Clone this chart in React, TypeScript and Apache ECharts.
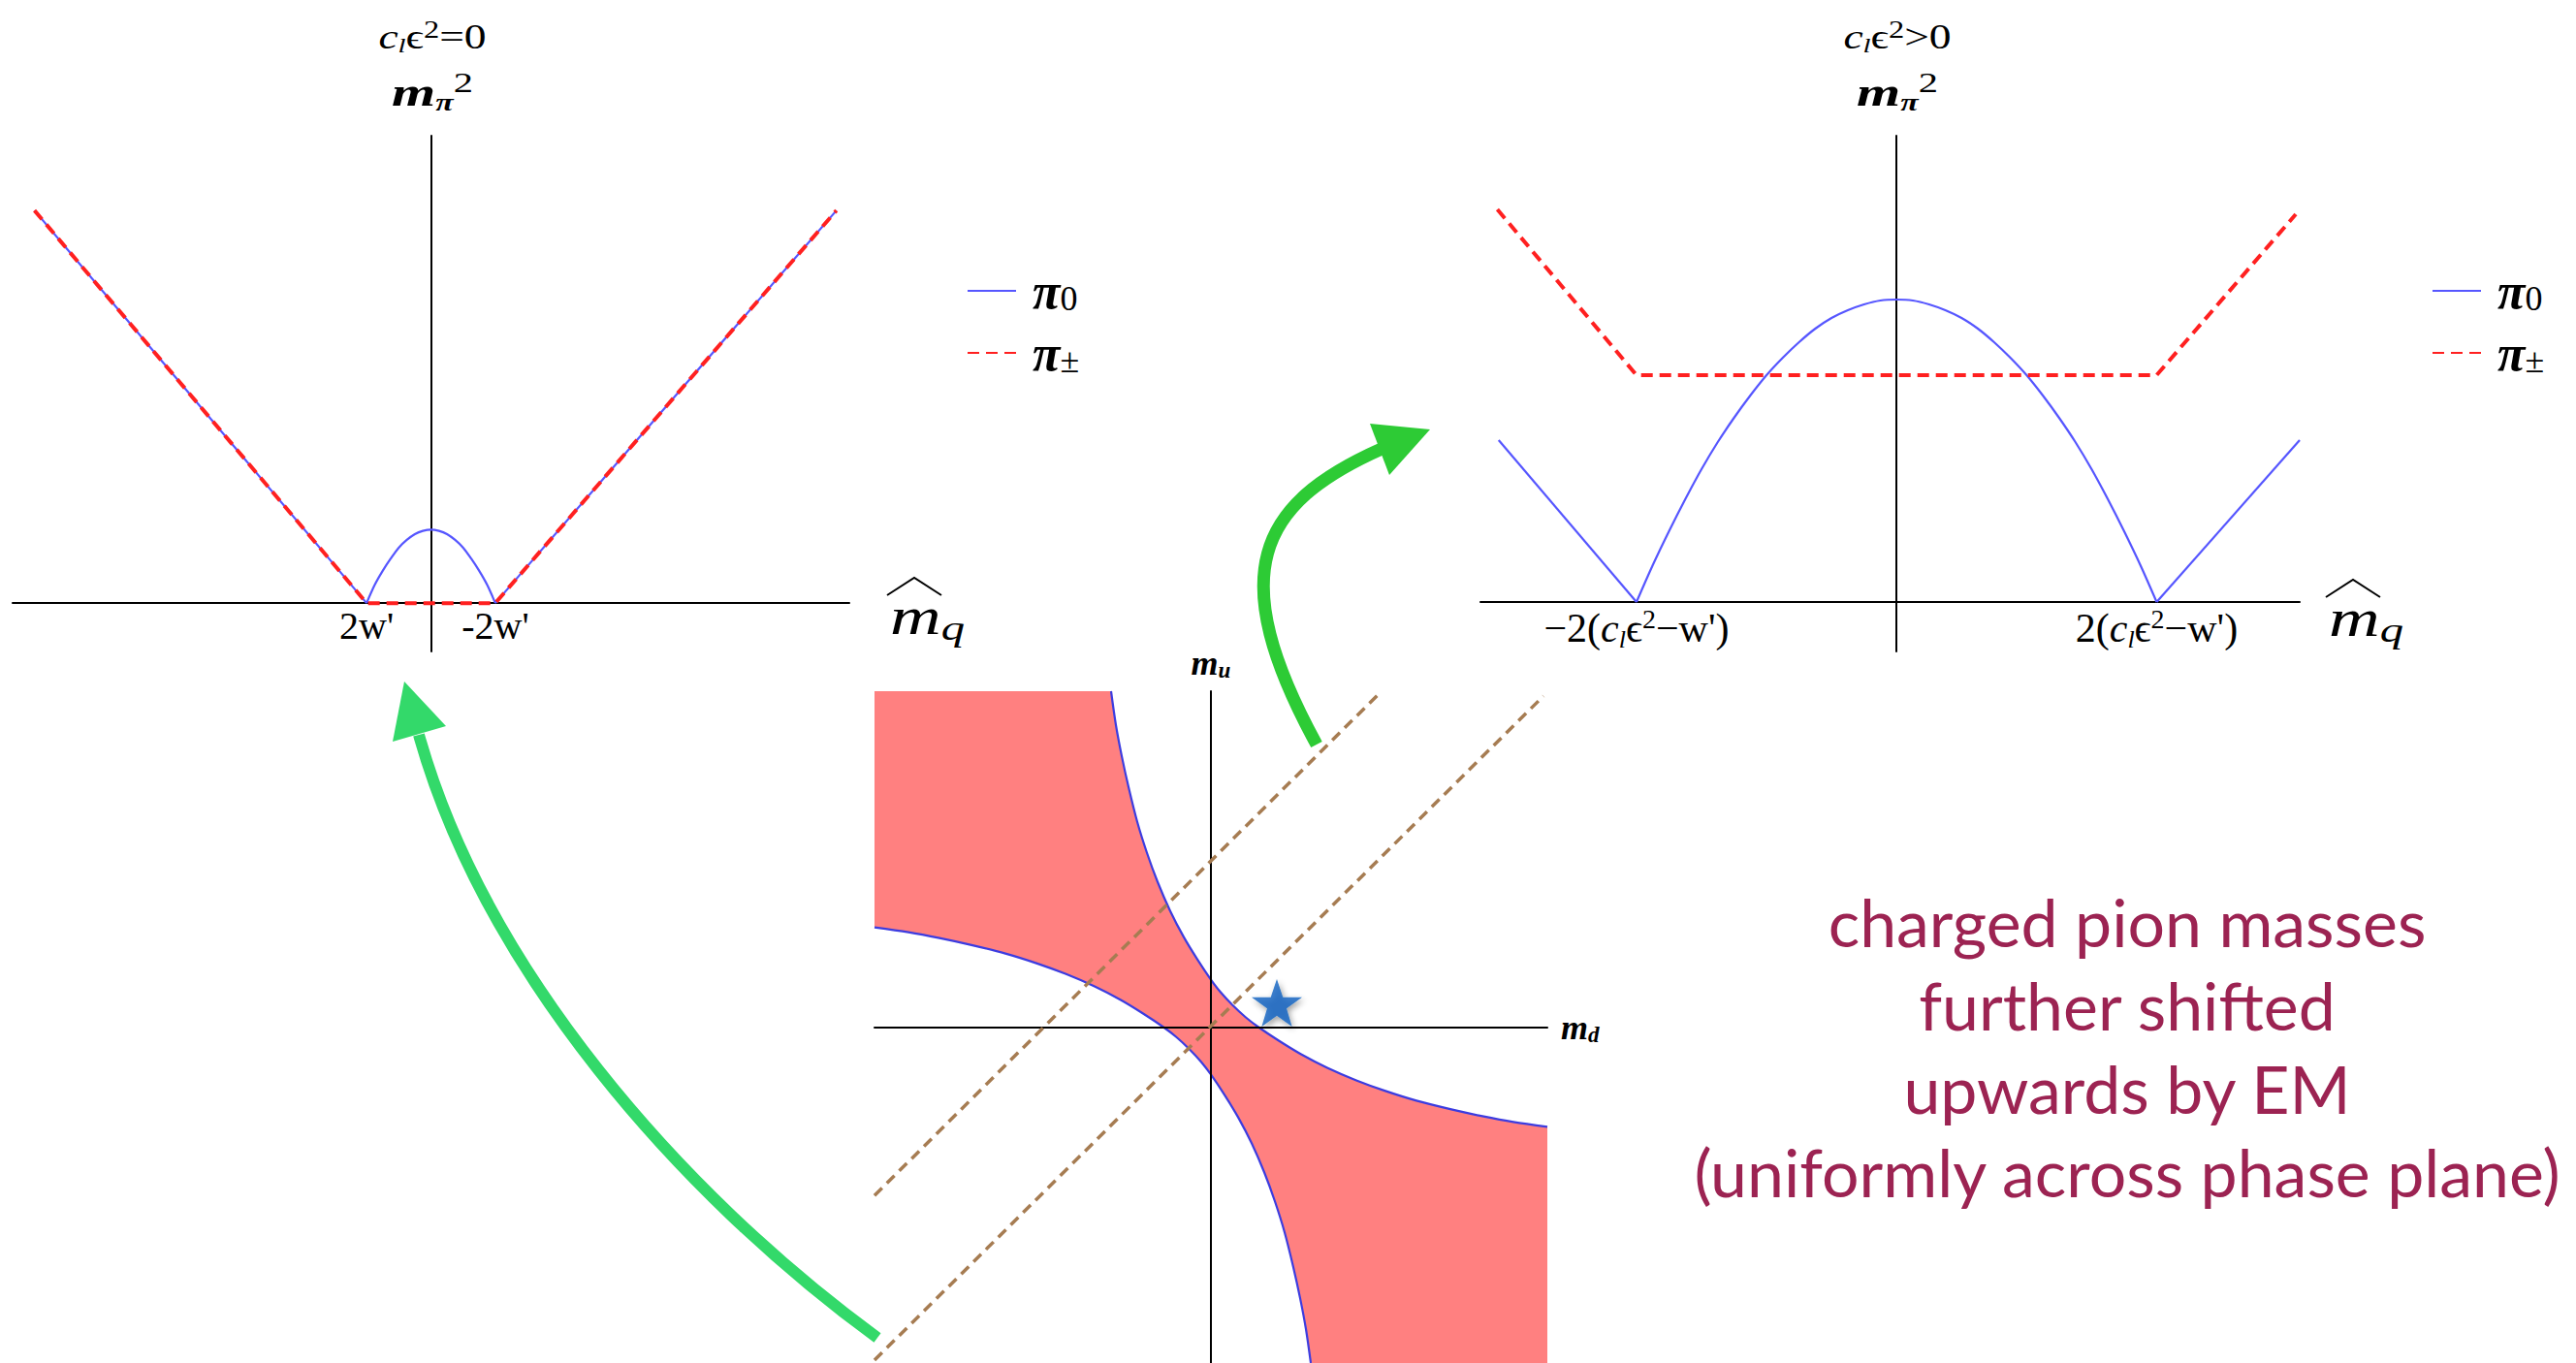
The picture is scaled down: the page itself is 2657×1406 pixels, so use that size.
import { useEffect, useRef } from 'react';
import * as echarts from 'echarts';

// ---------- Left panel: c_l eps^2 = 0 ----------
const leftPi0BranchL = [[-6.16, 6.09], [-1, 0]];
const leftPi0Arch = [
  [-1, 0], [-0.875, 0.28], [-0.75, 0.5], [-0.625, 0.69], [-0.5, 0.86], [-0.375, 0.98],
  [-0.25, 1.07], [-0.125, 1.12], [0, 1.14], [0.125, 1.12], [0.25, 1.07], [0.375, 0.98],
  [0.5, 0.86], [0.625, 0.69], [0.75, 0.5], [0.875, 0.28], [1, 0],
];
const leftPi0BranchR = [[1, 0], [6.3, 6.09]];
const leftPiCharged = [[-6.16, 6.09], [-1, 0], [1, 0], [6.3, 6.09]];
const leftTickValues = [-1, 1];
const leftTickTexts = ["2w'", "-2w'"];

// ---------- Right panel: c_l eps^2 > 0 ----------
const rightPi0BranchL = [[-3.06, 1.67], [-2, 0]];
const rightPi0Arch = [
  [-2, 0], [-1.875, 0.38], [-1.75, 0.73], [-1.625, 1.06], [-1.5, 1.37], [-1.375, 1.65],
  [-1.25, 1.9], [-1.125, 2.13], [-1, 2.34], [-0.875, 2.52], [-0.75, 2.68], [-0.625, 2.82],
  [-0.5, 2.93], [-0.375, 3.01], [-0.25, 3.07], [-0.125, 3.11], [0, 3.12],
  [0.125, 3.11], [0.25, 3.07], [0.375, 3.01], [0.5, 2.93], [0.625, 2.82], [0.75, 2.68],
  [0.875, 2.52], [1, 2.34], [1.125, 2.13], [1.25, 1.9], [1.375, 1.65], [1.5, 1.37],
  [1.625, 1.06], [1.75, 0.73], [1.875, 0.38], [2, 0],
];
const rightPi0BranchR = [[2, 0], [3.1, 1.67]];
const rightPiCharged = [[-3.07, 4.05], [-2, 2.34], [2, 2.34], [3.07, 4.0]];
const rightTickValues = [-2, 2];
const rightTickTexts = [
  '{t|−2(}{i|c}{s|l}{t|ϵ}{p|2}{t|−w\')}',
  '{t|2(}{i|c}{s|l}{t|ϵ}{p|2}{t|−w\')}',
];

// ---------- Phase plane (m_d, m_u) ----------
const phaseTopEdge = [[-3.47, 3.47], [-1.03, 3.47]];
const phaseUpper = [
  [-1.03, 3.47], [-0.98, 3.12], [-0.92, 2.8], [-0.85, 2.48], [-0.76, 2.12], [-0.66, 1.8],
  [-0.55, 1.5], [-0.42, 1.2], [-0.28, 0.93], [-0.14, 0.7], [0, 0.49], [0.1, 0.36],
  [0.225, 0.225], [0.36, 0.1], [0.49, 0], [0.7, -0.14], [0.93, -0.28], [1.2, -0.42],
  [1.5, -0.55], [1.8, -0.66], [2.12, -0.76], [2.48, -0.85], [2.8, -0.92], [3.12, -0.98],
  [3.47, -1.03],
];
const phaseLower = [
  [-3.47, 1.03], [-3.12, 0.98], [-2.8, 0.92], [-2.48, 0.85], [-2.12, 0.76], [-1.8, 0.66],
  [-1.5, 0.55], [-1.2, 0.42], [-0.93, 0.28], [-0.7, 0.14], [-0.49, 0], [-0.36, -0.1],
  [-0.225, -0.225], [-0.1, -0.36], [0, -0.49], [0.14, -0.7], [0.28, -0.93], [0.42, -1.2],
  [0.55, -1.5], [0.66, -1.8], [0.76, -2.12], [0.85, -2.48], [0.92, -2.8], [0.98, -3.12],
  [1.03, -3.47],
];
const diagonalUpper = [[-3.47, -1.74], [1.76, 3.47]];
const diagonalLower = [[-3.47, -3.44], [3.43, 3.42]];
const physicalPoint = [[0.68, 0.25]];

const caption = [
  'charged pion masses',
  'further shifted',
  'upwards by EM',
  '(uniformly across phase plane)',
];

const SERIF = 'Liberation Serif';
const BLUE = '#5656ff';
const RED = '#ff2020';
const BOUNDARY = '#3c3ce0';
const PINK = '#ff8080';
const BROWN = '#a67c52';
const GREEN_A = '#33d96a';
const GREEN_B = '#2dcb35';
const MAROON = '#9c2352';
const STAR =
  'path://M50,0L61.8,35.1L98.9,35.1L68.8,56.7L79.4,91.9L50,70.7L20.6,91.9L31.2,56.7L1.1,35.1L38.2,35.1Z';

const tickRich = {
  t: { fontFamily: SERIF, fontSize: 42, lineHeight: 48, color: '#000' },
  i: { fontFamily: SERIF, fontSize: 42, fontStyle: 'italic', lineHeight: 48, color: '#000' },
  s: { fontFamily: SERIF, fontSize: 26, fontStyle: 'italic', lineHeight: 28, verticalAlign: 'bottom', color: '#000' },
  p: { fontFamily: SERIF, fontSize: 28, lineHeight: 28, verticalAlign: 'top', color: '#000' },
};

const titleRich = {
  i: { fontFamily: SERIF, fontSize: 35, fontStyle: 'italic', lineHeight: 40, fill: '#000' },
  n: { fontFamily: SERIF, fontSize: 35, lineHeight: 40, fill: '#000' },
  s: { fontFamily: SERIF, fontSize: 22, fontStyle: 'italic', lineHeight: 22, verticalAlign: 'bottom', fill: '#000' },
  p: { fontFamily: SERIF, fontSize: 25, lineHeight: 24, verticalAlign: 'top', fill: '#000' },
  m: { fontFamily: SERIF, fontSize: 43, fontStyle: 'italic', fontWeight: 'bold', lineHeight: 48, fill: '#000' },
  mp: { fontFamily: SERIF, fontSize: 25, fontStyle: 'italic', fontWeight: 'bold', lineHeight: 24, verticalAlign: 'bottom', fill: '#000' },
  m2: { fontFamily: SERIF, fontSize: 30, lineHeight: 28, verticalAlign: 'top', fill: '#000' },
};

const mqRich = {
  m: { fontFamily: SERIF, fontSize: 54, fontStyle: 'italic', lineHeight: 60, fill: '#000' },
  q: { fontFamily: SERIF, fontSize: 36, fontStyle: 'italic', lineHeight: 36, verticalAlign: 'bottom', fill: '#000' },
};

function legendFor(left: number) {
  return {
    left,
    top: 274,
    orient: 'vertical',
    padding: 0,
    itemWidth: 50,
    itemHeight: 14,
    itemGap: 12,
    selectedMode: false,
    itemStyle: { opacity: 0 },
    data: ['π0', 'π±'],
    formatter: (name: string) => (name === 'π0' ? '{p|π}{s|0}' : '{p|π}{s|±}'),
    textStyle: {
      rich: {
        p: { fontFamily: SERIF, fontSize: 52, fontWeight: 'bold', fontStyle: 'italic', lineHeight: 52, padding: [0, 0, 0, 12], color: '#000' },
        s: { fontFamily: SERIF, fontSize: 36, lineHeight: 34, verticalAlign: 'bottom', color: '#000' },
      },
    },
  };
}

function tickFormatter(values: number[], texts: string[]) {
  return (v: number) => {
    for (let k = 0; k < values.length; k++) {
      if (Math.abs(v - values[k]) < 1e-6) return texts[k];
    }
    return '';
  };
}

const plainAxis = {
  type: 'value',
  axisTick: { show: false },
  splitLine: { show: false },
  axisLabel: { show: false },
  axisLine: { onZero: true, lineStyle: { color: '#000', width: 2 } },
};

const blueLine = (data: number[][], xi: number, smooth = false) => ({
  name: 'π0',
  type: 'line',
  xAxisIndex: xi,
  yAxisIndex: xi,
  data,
  smooth: smooth ? 0.3 : false,
  symbol: 'none',
  lineStyle: { color: BLUE, width: 2.2 },
  itemStyle: { color: BLUE },
  z: 2,
});

const redLine = (data: number[][], xi: number) => ({
  name: 'π±',
  type: 'line',
  xAxisIndex: xi,
  yAxisIndex: xi,
  data,
  symbol: 'none',
  lineStyle: { color: RED, width: 4, type: [12, 7] },
  itemStyle: { color: RED },
  z: 3,
});

function mqLabel(x: number, y: number) {
  return [
    {
      type: 'text',
      x,
      y,
      scaleX: 1.35,
      style: { text: '{m|m}{q|q}', rich: mqRich, align: 'left', verticalAlign: 'middle' },
    },
    {
      type: 'polyline',
      shape: { points: [[x - 3, y - 22], [x + 25, y - 40], [x + 53, y - 22]] },
      style: { stroke: '#000', lineWidth: 2, fill: null },
    },
  ];
}

function titleLabels(cx: number, relation: string) {
  return [
    {
      type: 'text',
      x: cx,
      y: 38,
      scaleX: 1.3,
      style: {
        text: `{i|c}{s|l}{n|ϵ}{p|2}{n|${relation}}`,
        rich: titleRich,
        align: 'center',
        verticalAlign: 'middle',
      },
    },
    {
      type: 'text',
      x: cx,
      y: 94,
      scaleX: 1.35,
      style: { text: '{m|m}{mp|π}{m2|2}', rich: titleRich, align: 'center', verticalAlign: 'middle' },
    },
  ];
}

const phaseName = {
  m: { fontFamily: SERIF, fontSize: 36, fontStyle: 'italic', fontWeight: 'bold', lineHeight: 38, color: '#000' },
  s: { fontFamily: SERIF, fontSize: 23, fontStyle: 'italic', fontWeight: 'bold', lineHeight: 22, verticalAlign: 'bottom', color: '#000' },
};

export default function App() {
  const ref = useRef<HTMLDivElement>(null);

  useEffect(() => {
    if (!ref.current) return;
    const chart = echarts.init(ref.current, null, { renderer: 'svg' });

    const option = {
      animation: false,
      backgroundColor: '#fff',
      grid: [
        { left: 13, top: 140, width: 863, height: 532 },
        { left: 1527, top: 140, width: 845, height: 532 },
        { left: 902, top: 713, width: 694, height: 694 },
      ],
      xAxis: [
        {
          ...plainAxis,
          gridIndex: 0,
          min: -6.5,
          max: 6.5,
          interval: 0.5,
          axisLabel: {
            show: true,
            margin: -47,
            formatter: tickFormatter(leftTickValues, leftTickTexts),
            fontFamily: SERIF,
            fontSize: 40,
            color: '#000',
          },
        },
        {
          ...plainAxis,
          gridIndex: 1,
          min: -3.2,
          max: 3.1,
          interval: 0.2,
          axisLabel: {
            show: true,
            margin: -48,
            formatter: tickFormatter(rightTickValues, rightTickTexts),
            rich: tickRich,
          },
        },
        {
          ...plainAxis,
          gridIndex: 2,
          min: -3.47,
          max: 3.47,
          z: 10,
          name: '{m|m}{s|d}',
          nameLocation: 'end',
          nameGap: 14,
          nameTextStyle: { rich: phaseName },
        },
      ],
      yAxis: [
        { ...plainAxis, gridIndex: 0, min: -0.75, max: 7.25 },
        { ...plainAxis, gridIndex: 1, min: -0.51, max: 4.81 },
        {
          ...plainAxis,
          gridIndex: 2,
          min: -3.47,
          max: 3.47,
          z: 10,
          name: '{m|m}{s|u}',
          nameLocation: 'end',
          nameGap: 10,
          nameTextStyle: { rich: phaseName },
        },
      ],
      legend: [legendFor(997), legendFor(2508)],
      series: [
        blueLine(leftPi0BranchL, 0),
        blueLine(leftPi0Arch, 0, true),
        blueLine(leftPi0BranchR, 0),
        redLine(leftPiCharged, 0),
        blueLine(rightPi0BranchL, 1),
        blueLine(rightPi0Arch, 1, true),
        blueLine(rightPi0BranchR, 1),
        redLine(rightPiCharged, 1),
        {
          name: 'phase-corner',
          type: 'line',
          xAxisIndex: 2,
          yAxisIndex: 2,
          data: phaseTopEdge,
          symbol: 'none',
          lineStyle: { opacity: 0 },
          areaStyle: { color: PINK, opacity: 1, origin: 'start' },
          z: 2,
        },
        {
          name: 'phase-upper',
          type: 'line',
          xAxisIndex: 2,
          yAxisIndex: 2,
          data: phaseUpper,
          smooth: 0.3,
          symbol: 'none',
          lineStyle: { color: BOUNDARY, width: 2.2 },
          areaStyle: { color: PINK, opacity: 1, origin: 'start' },
          z: 2,
        },
        {
          name: 'phase-lower',
          type: 'line',
          xAxisIndex: 2,
          yAxisIndex: 2,
          data: phaseLower,
          smooth: 0.3,
          symbol: 'none',
          lineStyle: { color: BOUNDARY, width: 2.2 },
          areaStyle: { color: '#ffffff', opacity: 1, origin: 'start' },
          z: 2,
        },
        {
          name: 'diag-upper',
          type: 'line',
          xAxisIndex: 2,
          yAxisIndex: 2,
          data: diagonalUpper,
          symbol: 'none',
          lineStyle: { color: BROWN, width: 3.5, type: [11, 7] },
          z: 12,
        },
        {
          name: 'diag-lower',
          type: 'line',
          xAxisIndex: 2,
          yAxisIndex: 2,
          data: diagonalLower,
          symbol: 'none',
          lineStyle: { color: BROWN, width: 3.5, type: [11, 7] },
          z: 12,
        },
        {
          name: 'physical',
          type: 'scatter',
          xAxisIndex: 2,
          yAxisIndex: 2,
          data: physicalPoint,
          symbol: STAR,
          symbolSize: [52, 49],
          itemStyle: {
            color: '#0a60c0',
            shadowBlur: 6,
            shadowColor: 'rgba(0,0,0,0.45)',
            shadowOffsetX: 2,
            shadowOffsetY: 3,
          },
          z: 14,
        },
      ],
      graphic: [
        ...titleLabels(446, '=0'),
        ...titleLabels(1957, '>0'),
        ...mqLabel(918, 636),
        ...mqLabel(2402, 638),
        {
          type: 'text',
          x: 2194,
          y: 1079,
          style: {
            text: caption.join('\n'),
            fontFamily: 'Lato',
            fontSize: 68,
            lineHeight: 86,
            fill: MAROON,
            align: 'center',
            verticalAlign: 'middle',
          },
        },
        // arrow from the lower diagonal to the left panel
        {
          type: 'bezierCurve',
          z: 100,
          shape: { x1: 905, y1: 1380, cpx1: 700, cpy1: 1230, cpx2: 500, cpy2: 1000, x2: 432, y2: 758 },
          style: { stroke: GREEN_A, lineWidth: 12, fill: null },
        },
        {
          type: 'polygon',
          z: 100,
          shape: { points: [[417, 703], [405, 765], [460, 749]] },
          style: { fill: GREEN_A },
        },
        // arrow from the upper diagonal to the right panel
        {
          type: 'bezierCurve',
          z: 100,
          shape: { x1: 1358, y1: 768, cpx1: 1262, cpy1: 592, cpx2: 1297, cpy2: 520, x2: 1425, y2: 463 },
          style: { stroke: GREEN_B, lineWidth: 13, fill: null },
        },
        {
          type: 'polygon',
          z: 100,
          shape: { points: [[1475, 443], [1413, 437], [1433, 490]] },
          style: { fill: GREEN_B },
        },
      ],
    };

    chart.setOption(option as any);
    return () => chart.dispose();
  }, []);

  return (
    <div
      ref={ref}
      style={{ position: 'fixed', left: 0, top: 0, width: 2657, height: 1406, background: '#fff' }}
    />
  );
}
